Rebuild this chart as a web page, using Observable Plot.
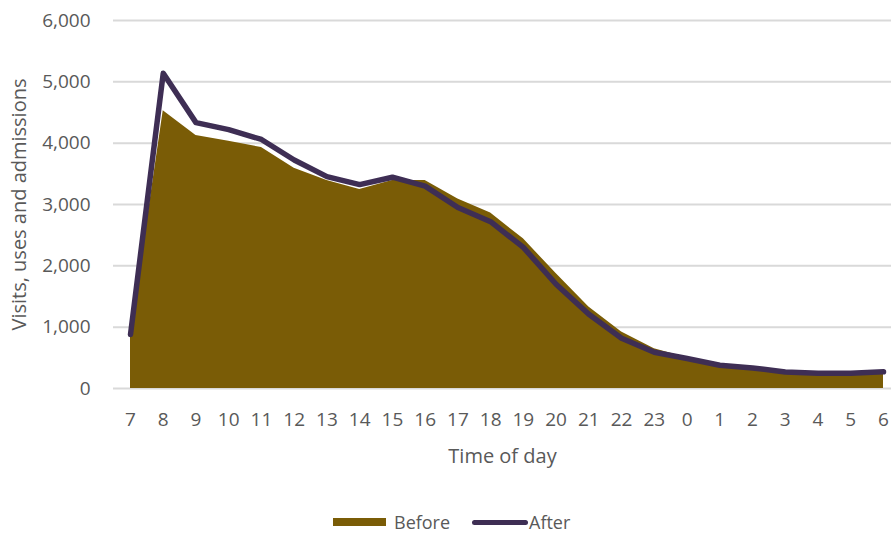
<!DOCTYPE html>
<html>
<head>
<meta charset="utf-8">
<script src="https://cdn.jsdelivr.net/npm/d3@7"></script>
<script src="https://cdn.jsdelivr.net/npm/@observablehq/plot@0.6"></script>
<style>
  html, body { margin: 0; padding: 0; background: #fff; }
  body { width: 891px; height: 533px; overflow: hidden; font-family: "Open Sans", sans-serif; }
  #legend { height: 43px; position: relative; font-size: 18px; color: #595959; }
  .item { position: absolute; top: 22px; height: 20px; display: flex; align-items: center; }
  .sw-area { width: 53px; height: 8px; background: #7a5c06; margin-right: 8px; }
  .sw-line { width: 56px; height: 5px; border-radius: 3px; background: #3e2e54; margin-right: 1px; }
</style>
</head>
<body>
<div id="chart"></div>
<div id="legend">
  <div class="item" style="left:333px"><div class="sw-area"></div><span>Before</span></div>
  <div class="item" style="left:472px"><div class="sw-line"></div><span>After</span></div>
</div>
<script>
const hours = ["7","8","9","10","11","12","13","14","15","16","17","18","19","20","21","22","23","0","1","2","3","4","5","6"];
const before = [870, 4530, 4125, 4030, 3930, 3590, 3390, 3245, 3390, 3390, 3090, 2860, 2440, 1875, 1330, 920, 650, 500, 370, 320, 250, 220, 220, 240];
const after  = [880, 5140, 4335, 4220, 4060, 3725, 3455, 3325, 3445, 3300, 2950, 2720, 2300, 1700, 1210, 820, 590, 490, 380, 335, 270, 250, 250, 272];
const yTicks = [0, 1000, 2000, 3000, 4000, 5000, 6000];

const data = hours.map((h, i) => ({hour: h, before: before[i], after: after[i]}));

const chart = Plot.plot({
  width: 891,
  height: 490,
  marginLeft: 113,
  marginRight: 0,
  marginTop: 20,
  marginBottom: 102,
  style: {fontFamily: "Open Sans, sans-serif", fontSize: "19px", color: "#595959", background: "#fff", overflow: "visible"},
  x: {type: "point", domain: hours, range: [130, 883], padding: 0, round: false},
  y: {domain: [0, 6000]},
  marks: [
    Plot.ruleY(yTicks, {stroke: "#d9d9d9", strokeWidth: 2}),
    Plot.areaY(data, {x: "hour", y: "before", fill: "#7a5c06"}),
    Plot.lineY(data, {x: "hour", y: "after", stroke: "#3e2e54", strokeWidth: 5.5, strokeLinejoin: "round", strokeLinecap: "round"}),
    Plot.axisY(yTicks, {tickSize: 0, tickPadding: 23, tickFormat: d3.format(","), fill: "#595959", label: null}),
    Plot.axisY([], {tickSize: 0, label: "Visits, uses and admissions", labelAnchor: "center", labelArrow: "none", labelOffset: 102, fill: "#595959", fontSize: 20}),
    Plot.axisX({tickSize: 0, tickPadding: 24, label: null, fill: "#595959"}),
    Plot.axisX([], {tickSize: 0, label: "Time of day", labelAnchor: "center", labelArrow: "none", labelOffset: 74, fill: "#595959", fontSize: 20})
  ]
});
document.getElementById("chart").appendChild(chart);
</script>
</body>
</html>
